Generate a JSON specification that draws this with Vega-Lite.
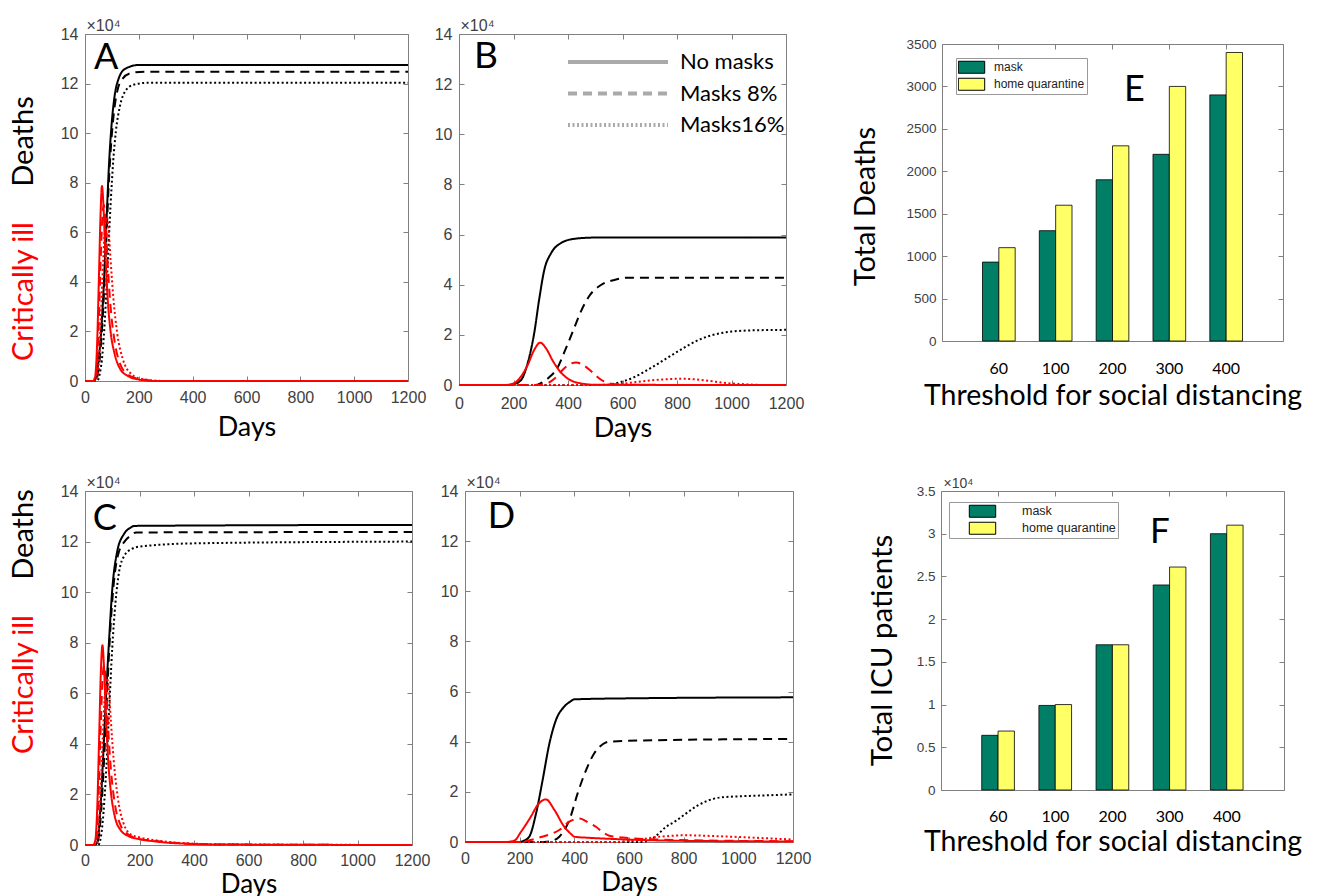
{
"$schema": "https://vega.github.io/schema/vega-lite/v6.json",
"background": "white",
"padding": {"left": 8, "top": 16, "right": 0, "bottom": 0},
"config": {
 "view": {"stroke": "#808080", "strokeWidth": 1},
 "axis": {"grid": false, "domain": false, "domainColor": "#808080", "domainWidth": 1, "labelFlush": false, "labelOverlap": false, "tickColor": "#808080", "tickWidth": 1, "tickSize": -5, "labelFont": "Liberation Sans", "labelColor": "#404040", "titleFont": "Lato", "titleFontWeight": "normal", "titleColor": "black"}
},
"datasets": {
 "lines": [
{"p":"A","m":"d","s":"No masks","x":0,"y":0},{"p":"A","m":"d","s":"No masks","x":30,"y":0},{"p":"A","m":"d","s":"No masks","x":40,"y":0.1},{"p":"A","m":"d","s":"No masks","x":50,"y":0.8},{"p":"A","m":"d","s":"No masks","x":60,"y":2},{"p":"A","m":"d","s":"No masks","x":70,"y":3.9},{"p":"A","m":"d","s":"No masks","x":80,"y":6.5},{"p":"A","m":"d","s":"No masks","x":90,"y":8.9},{"p":"A","m":"d","s":"No masks","x":100,"y":10.5},{"p":"A","m":"d","s":"No masks","x":110,"y":11.5},{"p":"A","m":"d","s":"No masks","x":125,"y":12.2},{"p":"A","m":"d","s":"No masks","x":150,"y":12.6},{"p":"A","m":"d","s":"No masks","x":200,"y":12.75},{"p":"A","m":"d","s":"No masks","x":1200,"y":12.75},
{"p":"A","m":"d","s":"Masks 8%","x":0,"y":0},{"p":"A","m":"d","s":"Masks 8%","x":38,"y":0},{"p":"A","m":"d","s":"Masks 8%","x":48,"y":0.3},{"p":"A","m":"d","s":"Masks 8%","x":58,"y":1.3},{"p":"A","m":"d","s":"Masks 8%","x":68,"y":3},{"p":"A","m":"d","s":"Masks 8%","x":78,"y":5.4},{"p":"A","m":"d","s":"Masks 8%","x":88,"y":7.9},{"p":"A","m":"d","s":"Masks 8%","x":98,"y":9.7},{"p":"A","m":"d","s":"Masks 8%","x":108,"y":10.9},{"p":"A","m":"d","s":"Masks 8%","x":120,"y":11.7},{"p":"A","m":"d","s":"Masks 8%","x":140,"y":12.2},{"p":"A","m":"d","s":"Masks 8%","x":170,"y":12.42},{"p":"A","m":"d","s":"Masks 8%","x":220,"y":12.48},{"p":"A","m":"d","s":"Masks 8%","x":1200,"y":12.48},
{"p":"A","m":"d","s":"Masks16%","x":0,"y":0},{"p":"A","m":"d","s":"Masks16%","x":45,"y":0},{"p":"A","m":"d","s":"Masks16%","x":55,"y":0.3},{"p":"A","m":"d","s":"Masks16%","x":65,"y":1.1},{"p":"A","m":"d","s":"Masks16%","x":75,"y":2.7},{"p":"A","m":"d","s":"Masks16%","x":85,"y":4.9},{"p":"A","m":"d","s":"Masks16%","x":95,"y":7.1},{"p":"A","m":"d","s":"Masks16%","x":105,"y":8.9},{"p":"A","m":"d","s":"Masks16%","x":115,"y":10.1},{"p":"A","m":"d","s":"Masks16%","x":130,"y":11.1},{"p":"A","m":"d","s":"Masks16%","x":150,"y":11.7},{"p":"A","m":"d","s":"Masks16%","x":180,"y":11.95},{"p":"A","m":"d","s":"Masks16%","x":230,"y":12.03},{"p":"A","m":"d","s":"Masks16%","x":1200,"y":12.03},
{"p":"A","m":"c","s":"No masks","x":0,"y":0},{"p":"A","m":"c","s":"No masks","x":30,"y":0},{"p":"A","m":"c","s":"No masks","x":38,"y":0.2},{"p":"A","m":"c","s":"No masks","x":45,"y":1.5},{"p":"A","m":"c","s":"No masks","x":52,"y":4.3},{"p":"A","m":"c","s":"No masks","x":58,"y":6.8},{"p":"A","m":"c","s":"No masks","x":63,"y":7.87},{"p":"A","m":"c","s":"No masks","x":68,"y":7.2},{"p":"A","m":"c","s":"No masks","x":75,"y":5.3},{"p":"A","m":"c","s":"No masks","x":85,"y":3.2},{"p":"A","m":"c","s":"No masks","x":95,"y":2},{"p":"A","m":"c","s":"No masks","x":110,"y":1.1},{"p":"A","m":"c","s":"No masks","x":130,"y":0.5},{"p":"A","m":"c","s":"No masks","x":160,"y":0.2},{"p":"A","m":"c","s":"No masks","x":200,"y":0.06},{"p":"A","m":"c","s":"No masks","x":260,"y":0},{"p":"A","m":"c","s":"No masks","x":1200,"y":0},
{"p":"A","m":"c","s":"Masks 8%","x":0,"y":0},{"p":"A","m":"c","s":"Masks 8%","x":35,"y":0},{"p":"A","m":"c","s":"Masks 8%","x":42,"y":0.3},{"p":"A","m":"c","s":"Masks 8%","x":50,"y":2},{"p":"A","m":"c","s":"Masks 8%","x":58,"y":4.8},{"p":"A","m":"c","s":"Masks 8%","x":65,"y":6.7},{"p":"A","m":"c","s":"Masks 8%","x":70,"y":7.1},{"p":"A","m":"c","s":"Masks 8%","x":76,"y":6.5},{"p":"A","m":"c","s":"Masks 8%","x":85,"y":4.6},{"p":"A","m":"c","s":"Masks 8%","x":95,"y":3},{"p":"A","m":"c","s":"Masks 8%","x":110,"y":1.6},{"p":"A","m":"c","s":"Masks 8%","x":130,"y":0.7},{"p":"A","m":"c","s":"Masks 8%","x":160,"y":0.25},{"p":"A","m":"c","s":"Masks 8%","x":200,"y":0.08},{"p":"A","m":"c","s":"Masks 8%","x":280,"y":0},{"p":"A","m":"c","s":"Masks 8%","x":1200,"y":0},
{"p":"A","m":"c","s":"Masks16%","x":0,"y":0},{"p":"A","m":"c","s":"Masks16%","x":40,"y":0},{"p":"A","m":"c","s":"Masks16%","x":48,"y":0.3},{"p":"A","m":"c","s":"Masks16%","x":56,"y":1.8},{"p":"A","m":"c","s":"Masks16%","x":65,"y":4.2},{"p":"A","m":"c","s":"Masks16%","x":73,"y":6},{"p":"A","m":"c","s":"Masks16%","x":80,"y":6.6},{"p":"A","m":"c","s":"Masks16%","x":87,"y":6.2},{"p":"A","m":"c","s":"Masks16%","x":95,"y":4.9},{"p":"A","m":"c","s":"Masks16%","x":105,"y":3.4},{"p":"A","m":"c","s":"Masks16%","x":120,"y":1.9},{"p":"A","m":"c","s":"Masks16%","x":140,"y":0.9},{"p":"A","m":"c","s":"Masks16%","x":170,"y":0.3},{"p":"A","m":"c","s":"Masks16%","x":210,"y":0.08},{"p":"A","m":"c","s":"Masks16%","x":300,"y":0},{"p":"A","m":"c","s":"Masks16%","x":1200,"y":0},
{"p":"B","m":"d","s":"No masks","x":0,"y":0},{"p":"B","m":"d","s":"No masks","x":180,"y":0},{"p":"B","m":"d","s":"No masks","x":200,"y":0.03},{"p":"B","m":"d","s":"No masks","x":228,"y":0.2},{"p":"B","m":"d","s":"No masks","x":252,"y":0.87},{"p":"B","m":"d","s":"No masks","x":276,"y":2.07},{"p":"B","m":"d","s":"No masks","x":294,"y":3.4},{"p":"B","m":"d","s":"No masks","x":313,"y":4.59},{"p":"B","m":"d","s":"No masks","x":338,"y":5.26},{"p":"B","m":"d","s":"No masks","x":374,"y":5.66},{"p":"B","m":"d","s":"No masks","x":423,"y":5.83},{"p":"B","m":"d","s":"No masks","x":496,"y":5.88},{"p":"B","m":"d","s":"No masks","x":1200,"y":5.88},
{"p":"B","m":"d","s":"Masks 8%","x":0,"y":0},{"p":"B","m":"d","s":"Masks 8%","x":280,"y":0},{"p":"B","m":"d","s":"Masks 8%","x":301,"y":0.08},{"p":"B","m":"d","s":"Masks 8%","x":330,"y":0.3},{"p":"B","m":"d","s":"Masks 8%","x":362,"y":0.7},{"p":"B","m":"d","s":"Masks 8%","x":390,"y":1.4},{"p":"B","m":"d","s":"Masks 8%","x":420,"y":2.2},{"p":"B","m":"d","s":"Masks 8%","x":448,"y":2.95},{"p":"B","m":"d","s":"Masks 8%","x":478,"y":3.55},{"p":"B","m":"d","s":"Masks 8%","x":521,"y":3.99},{"p":"B","m":"d","s":"Masks 8%","x":570,"y":4.19},{"p":"B","m":"d","s":"Masks 8%","x":619,"y":4.28},{"p":"B","m":"d","s":"Masks 8%","x":1200,"y":4.28},
{"p":"B","m":"d","s":"Masks16%","x":0,"y":0},{"p":"B","m":"d","s":"Masks16%","x":520,"y":0},{"p":"B","m":"d","s":"Masks16%","x":580,"y":0.08},{"p":"B","m":"d","s":"Masks16%","x":640,"y":0.3},{"p":"B","m":"d","s":"Masks16%","x":700,"y":0.65},{"p":"B","m":"d","s":"Masks16%","x":760,"y":1.05},{"p":"B","m":"d","s":"Masks16%","x":820,"y":1.45},{"p":"B","m":"d","s":"Masks16%","x":880,"y":1.8},{"p":"B","m":"d","s":"Masks16%","x":940,"y":2.02},{"p":"B","m":"d","s":"Masks16%","x":1000,"y":2.13},{"p":"B","m":"d","s":"Masks16%","x":1080,"y":2.18},{"p":"B","m":"d","s":"Masks16%","x":1200,"y":2.2},
{"p":"B","m":"c","s":"No masks","x":0,"y":0},{"p":"B","m":"c","s":"No masks","x":170,"y":0},{"p":"B","m":"c","s":"No masks","x":200,"y":0.06},{"p":"B","m":"c","s":"No masks","x":225,"y":0.3},{"p":"B","m":"c","s":"No masks","x":252,"y":0.8},{"p":"B","m":"c","s":"No masks","x":276,"y":1.4},{"p":"B","m":"c","s":"No masks","x":298,"y":1.69},{"p":"B","m":"c","s":"No masks","x":320,"y":1.45},{"p":"B","m":"c","s":"No masks","x":345,"y":0.95},{"p":"B","m":"c","s":"No masks","x":370,"y":0.55},{"p":"B","m":"c","s":"No masks","x":400,"y":0.25},{"p":"B","m":"c","s":"No masks","x":440,"y":0.08},{"p":"B","m":"c","s":"No masks","x":500,"y":0.01},{"p":"B","m":"c","s":"No masks","x":1200,"y":0},
{"p":"B","m":"c","s":"Masks 8%","x":0,"y":0},{"p":"B","m":"c","s":"Masks 8%","x":290,"y":0},{"p":"B","m":"c","s":"Masks 8%","x":320,"y":0.05},{"p":"B","m":"c","s":"Masks 8%","x":350,"y":0.25},{"p":"B","m":"c","s":"Masks 8%","x":380,"y":0.6},{"p":"B","m":"c","s":"Masks 8%","x":410,"y":0.85},{"p":"B","m":"c","s":"Masks 8%","x":430,"y":0.9},{"p":"B","m":"c","s":"Masks 8%","x":455,"y":0.8},{"p":"B","m":"c","s":"Masks 8%","x":480,"y":0.6},{"p":"B","m":"c","s":"Masks 8%","x":505,"y":0.35},{"p":"B","m":"c","s":"Masks 8%","x":530,"y":0.15},{"p":"B","m":"c","s":"Masks 8%","x":560,"y":0.05},{"p":"B","m":"c","s":"Masks 8%","x":620,"y":0},{"p":"B","m":"c","s":"Masks 8%","x":1200,"y":0},
{"p":"B","m":"c","s":"Masks16%","x":0,"y":0},{"p":"B","m":"c","s":"Masks16%","x":550,"y":0},{"p":"B","m":"c","s":"Masks16%","x":600,"y":0.05},{"p":"B","m":"c","s":"Masks16%","x":650,"y":0.12},{"p":"B","m":"c","s":"Masks16%","x":700,"y":0.18},{"p":"B","m":"c","s":"Masks16%","x":760,"y":0.23},{"p":"B","m":"c","s":"Masks16%","x":810,"y":0.25},{"p":"B","m":"c","s":"Masks16%","x":860,"y":0.23},{"p":"B","m":"c","s":"Masks16%","x":920,"y":0.16},{"p":"B","m":"c","s":"Masks16%","x":980,"y":0.08},{"p":"B","m":"c","s":"Masks16%","x":1050,"y":0.03},{"p":"B","m":"c","s":"Masks16%","x":1120,"y":0},{"p":"B","m":"c","s":"Masks16%","x":1200,"y":0},
{"p":"C","m":"d","s":"No masks","x":0,"y":0},{"p":"C","m":"d","s":"No masks","x":35,"y":0},{"p":"C","m":"d","s":"No masks","x":45,"y":0.1},{"p":"C","m":"d","s":"No masks","x":58,"y":1.7},{"p":"C","m":"d","s":"No masks","x":68,"y":3.8},{"p":"C","m":"d","s":"No masks","x":76,"y":5.65},{"p":"C","m":"d","s":"No masks","x":88,"y":8.03},{"p":"C","m":"d","s":"No masks","x":100,"y":10.1},{"p":"C","m":"d","s":"No masks","x":118,"y":11.6},{"p":"C","m":"d","s":"No masks","x":143,"y":12.3},{"p":"C","m":"d","s":"No masks","x":167,"y":12.55},{"p":"C","m":"d","s":"No masks","x":181,"y":12.62},{"p":"C","m":"d","s":"No masks","x":1200,"y":12.66},
{"p":"C","m":"d","s":"Masks 8%","x":0,"y":0},{"p":"C","m":"d","s":"Masks 8%","x":40,"y":0},{"p":"C","m":"d","s":"Masks 8%","x":50,"y":0.3},{"p":"C","m":"d","s":"Masks 8%","x":62,"y":1.8},{"p":"C","m":"d","s":"Masks 8%","x":72,"y":3.8},{"p":"C","m":"d","s":"Masks 8%","x":82,"y":6.2},{"p":"C","m":"d","s":"Masks 8%","x":94,"y":8.7},{"p":"C","m":"d","s":"Masks 8%","x":106,"y":10.4},{"p":"C","m":"d","s":"Masks 8%","x":122,"y":11.5},{"p":"C","m":"d","s":"Masks 8%","x":145,"y":12},{"p":"C","m":"d","s":"Masks 8%","x":170,"y":12.25},{"p":"C","m":"d","s":"Masks 8%","x":187,"y":12.36},{"p":"C","m":"d","s":"Masks 8%","x":1200,"y":12.38},
{"p":"C","m":"d","s":"Masks16%","x":0,"y":0},{"p":"C","m":"d","s":"Masks16%","x":48,"y":0},{"p":"C","m":"d","s":"Masks16%","x":58,"y":0.3},{"p":"C","m":"d","s":"Masks16%","x":68,"y":1.3},{"p":"C","m":"d","s":"Masks16%","x":78,"y":3},{"p":"C","m":"d","s":"Masks16%","x":88,"y":5.2},{"p":"C","m":"d","s":"Masks16%","x":100,"y":7.8},{"p":"C","m":"d","s":"Masks16%","x":112,"y":9.6},{"p":"C","m":"d","s":"Masks16%","x":125,"y":10.8},{"p":"C","m":"d","s":"Masks16%","x":145,"y":11.45},{"p":"C","m":"d","s":"Masks16%","x":170,"y":11.7},{"p":"C","m":"d","s":"Masks16%","x":200,"y":11.8},{"p":"C","m":"d","s":"Masks16%","x":400,"y":11.93},{"p":"C","m":"d","s":"Masks16%","x":1200,"y":12},
{"p":"C","m":"c","s":"No masks","x":0,"y":0},{"p":"C","m":"c","s":"No masks","x":30,"y":0},{"p":"C","m":"c","s":"No masks","x":38,"y":0.2},{"p":"C","m":"c","s":"No masks","x":45,"y":1.5},{"p":"C","m":"c","s":"No masks","x":52,"y":4.3},{"p":"C","m":"c","s":"No masks","x":58,"y":6.8},{"p":"C","m":"c","s":"No masks","x":64,"y":7.9},{"p":"C","m":"c","s":"No masks","x":69,"y":7.2},{"p":"C","m":"c","s":"No masks","x":76,"y":5.3},{"p":"C","m":"c","s":"No masks","x":86,"y":3.2},{"p":"C","m":"c","s":"No masks","x":96,"y":2},{"p":"C","m":"c","s":"No masks","x":110,"y":1.1},{"p":"C","m":"c","s":"No masks","x":130,"y":0.6},{"p":"C","m":"c","s":"No masks","x":160,"y":0.35},{"p":"C","m":"c","s":"No masks","x":190,"y":0.25},{"p":"C","m":"c","s":"No masks","x":250,"y":0.15},{"p":"C","m":"c","s":"No masks","x":350,"y":0.06},{"p":"C","m":"c","s":"No masks","x":500,"y":0.02},{"p":"C","m":"c","s":"No masks","x":1200,"y":0},
{"p":"C","m":"c","s":"Masks 8%","x":0,"y":0},{"p":"C","m":"c","s":"Masks 8%","x":35,"y":0},{"p":"C","m":"c","s":"Masks 8%","x":42,"y":0.3},{"p":"C","m":"c","s":"Masks 8%","x":50,"y":2},{"p":"C","m":"c","s":"Masks 8%","x":58,"y":4.8},{"p":"C","m":"c","s":"Masks 8%","x":65,"y":6.7},{"p":"C","m":"c","s":"Masks 8%","x":70,"y":7.1},{"p":"C","m":"c","s":"Masks 8%","x":76,"y":6.5},{"p":"C","m":"c","s":"Masks 8%","x":85,"y":4.6},{"p":"C","m":"c","s":"Masks 8%","x":95,"y":3},{"p":"C","m":"c","s":"Masks 8%","x":110,"y":1.6},{"p":"C","m":"c","s":"Masks 8%","x":130,"y":0.8},{"p":"C","m":"c","s":"Masks 8%","x":160,"y":0.4},{"p":"C","m":"c","s":"Masks 8%","x":190,"y":0.27},{"p":"C","m":"c","s":"Masks 8%","x":250,"y":0.17},{"p":"C","m":"c","s":"Masks 8%","x":350,"y":0.07},{"p":"C","m":"c","s":"Masks 8%","x":500,"y":0.02},{"p":"C","m":"c","s":"Masks 8%","x":1200,"y":0},
{"p":"C","m":"c","s":"Masks16%","x":0,"y":0},{"p":"C","m":"c","s":"Masks16%","x":40,"y":0},{"p":"C","m":"c","s":"Masks16%","x":48,"y":0.3},{"p":"C","m":"c","s":"Masks16%","x":56,"y":1.8},{"p":"C","m":"c","s":"Masks16%","x":65,"y":4.2},{"p":"C","m":"c","s":"Masks16%","x":73,"y":6},{"p":"C","m":"c","s":"Masks16%","x":80,"y":6.6},{"p":"C","m":"c","s":"Masks16%","x":87,"y":6.2},{"p":"C","m":"c","s":"Masks16%","x":95,"y":4.9},{"p":"C","m":"c","s":"Masks16%","x":105,"y":3.4},{"p":"C","m":"c","s":"Masks16%","x":120,"y":1.9},{"p":"C","m":"c","s":"Masks16%","x":140,"y":0.9},{"p":"C","m":"c","s":"Masks16%","x":170,"y":0.4},{"p":"C","m":"c","s":"Masks16%","x":200,"y":0.3},{"p":"C","m":"c","s":"Masks16%","x":250,"y":0.2},{"p":"C","m":"c","s":"Masks16%","x":350,"y":0.08},{"p":"C","m":"c","s":"Masks16%","x":500,"y":0.03},{"p":"C","m":"c","s":"Masks16%","x":1200,"y":0},
{"p":"D","m":"d","s":"No masks","x":0,"y":0},{"p":"D","m":"d","s":"No masks","x":195,"y":0},{"p":"D","m":"d","s":"No masks","x":215,"y":0.05},{"p":"D","m":"d","s":"No masks","x":235,"y":0.21},{"p":"D","m":"d","s":"No masks","x":260,"y":1.14},{"p":"D","m":"d","s":"No masks","x":284,"y":2.47},{"p":"D","m":"d","s":"No masks","x":309,"y":3.94},{"p":"D","m":"d","s":"No masks","x":333,"y":4.87},{"p":"D","m":"d","s":"No masks","x":363,"y":5.4},{"p":"D","m":"d","s":"No masks","x":385,"y":5.6},{"p":"D","m":"d","s":"No masks","x":400,"y":5.69},{"p":"D","m":"d","s":"No masks","x":600,"y":5.73},{"p":"D","m":"d","s":"No masks","x":1200,"y":5.77},
{"p":"D","m":"d","s":"Masks 8%","x":0,"y":0},{"p":"D","m":"d","s":"Masks 8%","x":290,"y":0},{"p":"D","m":"d","s":"Masks 8%","x":320,"y":0.05},{"p":"D","m":"d","s":"Masks 8%","x":345,"y":0.21},{"p":"D","m":"d","s":"Masks 8%","x":382,"y":0.88},{"p":"D","m":"d","s":"Masks 8%","x":412,"y":1.94},{"p":"D","m":"d","s":"Masks 8%","x":443,"y":2.87},{"p":"D","m":"d","s":"Masks 8%","x":473,"y":3.54},{"p":"D","m":"d","s":"Masks 8%","x":504,"y":3.9},{"p":"D","m":"d","s":"Masks 8%","x":528,"y":4},{"p":"D","m":"d","s":"Masks 8%","x":700,"y":4.06},{"p":"D","m":"d","s":"Masks 8%","x":1200,"y":4.11},
{"p":"D","m":"d","s":"Masks16%","x":0,"y":0},{"p":"D","m":"d","s":"Masks16%","x":640,"y":0},{"p":"D","m":"d","s":"Masks16%","x":680,"y":0.1},{"p":"D","m":"d","s":"Masks16%","x":710,"y":0.35},{"p":"D","m":"d","s":"Masks16%","x":735,"y":0.6},{"p":"D","m":"d","s":"Masks16%","x":766,"y":0.8},{"p":"D","m":"d","s":"Masks16%","x":809,"y":1.14},{"p":"D","m":"d","s":"Masks16%","x":850,"y":1.45},{"p":"D","m":"d","s":"Masks16%","x":882,"y":1.62},{"p":"D","m":"d","s":"Masks16%","x":930,"y":1.77},{"p":"D","m":"d","s":"Masks16%","x":1000,"y":1.82},{"p":"D","m":"d","s":"Masks16%","x":1100,"y":1.86},{"p":"D","m":"d","s":"Masks16%","x":1200,"y":1.9},
{"p":"D","m":"c","s":"No masks","x":0,"y":0},{"p":"D","m":"c","s":"No masks","x":150,"y":0},{"p":"D","m":"c","s":"No masks","x":180,"y":0.05},{"p":"D","m":"c","s":"No masks","x":205,"y":0.41},{"p":"D","m":"c","s":"No masks","x":241,"y":1.01},{"p":"D","m":"c","s":"No masks","x":266,"y":1.48},{"p":"D","m":"c","s":"No masks","x":296,"y":1.7},{"p":"D","m":"c","s":"No masks","x":327,"y":1.28},{"p":"D","m":"c","s":"No masks","x":363,"y":0.61},{"p":"D","m":"c","s":"No masks","x":390,"y":0.3},{"p":"D","m":"c","s":"No masks","x":400,"y":0.21},{"p":"D","m":"c","s":"No masks","x":450,"y":0.17},{"p":"D","m":"c","s":"No masks","x":522,"y":0.13},{"p":"D","m":"c","s":"No masks","x":644,"y":0.08},{"p":"D","m":"c","s":"No masks","x":766,"y":0.05},{"p":"D","m":"c","s":"No masks","x":1000,"y":0.03},{"p":"D","m":"c","s":"No masks","x":1200,"y":0.02},
{"p":"D","m":"c","s":"Masks 8%","x":0,"y":0},{"p":"D","m":"c","s":"Masks 8%","x":200,"y":0},{"p":"D","m":"c","s":"Masks 8%","x":240,"y":0.08},{"p":"D","m":"c","s":"Masks 8%","x":278,"y":0.2},{"p":"D","m":"c","s":"Masks 8%","x":310,"y":0.3},{"p":"D","m":"c","s":"Masks 8%","x":345,"y":0.48},{"p":"D","m":"c","s":"Masks 8%","x":380,"y":0.8},{"p":"D","m":"c","s":"Masks 8%","x":420,"y":0.94},{"p":"D","m":"c","s":"Masks 8%","x":450,"y":0.78},{"p":"D","m":"c","s":"Masks 8%","x":479,"y":0.61},{"p":"D","m":"c","s":"Masks 8%","x":505,"y":0.38},{"p":"D","m":"c","s":"Masks 8%","x":528,"y":0.25},{"p":"D","m":"c","s":"Masks 8%","x":577,"y":0.18},{"p":"D","m":"c","s":"Masks 8%","x":766,"y":0.08},{"p":"D","m":"c","s":"Masks 8%","x":1200,"y":0.03},
{"p":"D","m":"c","s":"Masks16%","x":0,"y":0},{"p":"D","m":"c","s":"Masks16%","x":550,"y":0},{"p":"D","m":"c","s":"Masks16%","x":600,"y":0.05},{"p":"D","m":"c","s":"Masks16%","x":650,"y":0.12},{"p":"D","m":"c","s":"Masks16%","x":700,"y":0.2},{"p":"D","m":"c","s":"Masks16%","x":750,"y":0.24},{"p":"D","m":"c","s":"Masks16%","x":800,"y":0.27},{"p":"D","m":"c","s":"Masks16%","x":900,"y":0.24},{"p":"D","m":"c","s":"Masks16%","x":1000,"y":0.2},{"p":"D","m":"c","s":"Masks16%","x":1100,"y":0.15},{"p":"D","m":"c","s":"Masks16%","x":1200,"y":0.1}
 ],
 "bars": [
{"panel":"E","t":"60","s":"mask","v":930},{"panel":"E","t":"100","s":"mask","v":1300},{"panel":"E","t":"200","s":"mask","v":1900},{"panel":"E","t":"300","s":"mask","v":2200},{"panel":"E","t":"400","s":"mask","v":2900},
{"panel":"E","t":"60","s":"home quarantine","v":1100},{"panel":"E","t":"100","s":"home quarantine","v":1600},{"panel":"E","t":"200","s":"home quarantine","v":2300},{"panel":"E","t":"300","s":"home quarantine","v":3000},{"panel":"E","t":"400","s":"home quarantine","v":3400},
{"panel":"F","t":"60","s":"mask","v":0.64},{"panel":"F","t":"100","s":"mask","v":0.99},{"panel":"F","t":"200","s":"mask","v":1.7},{"panel":"F","t":"300","s":"mask","v":2.4},{"panel":"F","t":"400","s":"mask","v":3.0},
{"panel":"F","t":"60","s":"home quarantine","v":0.69},{"panel":"F","t":"100","s":"home quarantine","v":1.0},{"panel":"F","t":"200","s":"home quarantine","v":1.7},{"panel":"F","t":"300","s":"home quarantine","v":2.61},{"panel":"F","t":"400","s":"home quarantine","v":3.1}
 ]
},
"spacing": 31,
"resolve": {"scale": {"color": "independent", "strokeDash": "independent"}, "legend": {"color": "independent", "strokeDash": "independent"}},
"vconcat": [
 {"hconcat": [
  {"width": 323, "height": 347,
   "layer": [
    {"data": {"name": "lines"}, "transform": [{"filter": "datum.p === 'A' && datum.m === 'd'"}],
     "mark": {"type": "line", "color": "black", "strokeWidth": 2, "interpolate": "monotone"},
     "encoding": {
      "x": {"field": "x", "type": "quantitative", "scale": {"domain": [0, 1200], "nice": false},
            "axis": {"orient": "bottom", "values": [0,200,400,600,800,1000,1200], "format": "d", "labelFontSize": 16, "labelPadding": 13, "title": "Days", "titleFontSize": 27, "titleBaseline": "top", "titleY": 33}},
      "y": {"field": "y", "type": "quantitative", "scale": {"domain": [0, 14], "nice": false},
            "axis": {"orient": "left", "values": [0,2,4,6,8,10,12,14], "format": "d", "labelFontSize": 16, "labelPadding": 12, "title": "Deaths", "titleFontSize": 29, "titleAngle": -90, "titleAlign": "center", "titleBaseline": "middle", "titleX": -62, "titleY": 107}},
      "strokeDash": {"field": "s", "type": "nominal", "scale": {"domain": ["No masks", "Masks 8%", "Masks16%"], "range": [[1,0],[9,6],[2,2.5]]}, "legend": null}
     }},
    {"data": {"name": "lines"}, "transform": [{"filter": "datum.p === 'A' && datum.m === 'c'"}],
     "mark": {"type": "line", "color": "#ff0000", "strokeWidth": 2, "interpolate": "monotone"},
     "encoding": {
      "x": {"field": "x", "type": "quantitative", "scale": {"domain": [0, 1200], "nice": false},
            "axis": {"orient": "top", "values": [0,200,400,600,800,1000,1200], "labels": false, "title": "\u00d710\u2074", "titleFont": "Liberation Sans", "titleFontSize": 16, "titleColor": "#404040", "titleAngle": 0, "titleAlign": "left", "titleBaseline": "alphabetic", "titleX": 1, "titleY": -4}},
      "y": {"field": "y", "type": "quantitative", "scale": {"domain": [0, 14], "nice": false},
            "axis": {"orient": "right", "values": [0,2,4,6,8,10,12,14], "labels": false, "title": "Critically ill", "titleColor": "#ff0000", "titleFontSize": 29, "titleAngle": -90, "titleAlign": "center", "titleBaseline": "middle", "titleX": -385, "titleY": 257}},
      "strokeDash": {"field": "s", "type": "nominal", "scale": {"domain": ["No masks", "Masks 8%", "Masks16%"], "range": [[1,0],[9,6],[2,2.5]]}, "legend": null}
     }},
    {"data": {"values": [{}]},
     "mark": {"type": "text", "text": "A", "font": "Lato", "fontSize": 36, "align": "left", "baseline": "alphabetic", "color": "black"},
     "encoding": {"x": {"datum": 33, "type": "quantitative", "axis": null}, "y": {"datum": 12.57, "type": "quantitative", "axis": null}}}
   ],
   "resolve": {"axis": {"x": "independent", "y": "independent"}}
  },
  {"width": 327, "height": 351,
   "layer": [
    {"data": {"name": "lines"}, "transform": [{"filter": "datum.p === 'B' && datum.m === 'd'"}],
     "mark": {"type": "line", "color": "black", "strokeWidth": 2, "interpolate": "monotone"},
     "encoding": {
      "x": {"field": "x", "type": "quantitative", "scale": {"domain": [0, 1200], "nice": false},
            "axis": {"orient": "bottom", "values": [0,200,400,600,800,1000,1200], "format": "d", "labelFontSize": 16, "labelPadding": 15.5, "title": "Days", "titleFontSize": 27, "titleBaseline": "top", "titleY": 30}},
      "y": {"field": "y", "type": "quantitative", "scale": {"domain": [0, 14], "nice": false},
            "axis": {"orient": "left", "values": [0,2,4,6,8,10,12,14], "format": "d", "labelFontSize": 16, "labelPadding": 12, "title": null}},
      "strokeDash": {"field": "s", "type": "nominal", "scale": {"domain": ["No masks", "Masks 8%", "Masks16%"], "range": [[1,0],[9,6],[2,2.5]]},
        "legend": {"title": null, "orient": "none", "legendX": 107, "legendY": 13, "symbolType": "stroke", "symbolSize": 10000, "symbolStrokeWidth": 4, "symbolStrokeColor": "#aaaaaa", "labelFont": "Lato", "labelFontSize": 22, "labelColor": "black", "labelOffset": 10, "clipHeight": 30, "rowPadding": 1.5, "padding": 0,
          "encode": {"symbols": {"update": {"strokeDash": {"signal": "datum.value === 'Masks 8%' ? [14,12] : datum.value === 'Masks16%' ? [3.5,5.5] : [1,0]"}, "stroke": {"value": "#aaaaaa"}, "strokeWidth": {"value": 4}}}}}}
     }},
    {"data": {"name": "lines"}, "transform": [{"filter": "datum.p === 'B' && datum.m === 'c'"}],
     "mark": {"type": "line", "color": "#ff0000", "strokeWidth": 2, "interpolate": "monotone"},
     "encoding": {
      "x": {"field": "x", "type": "quantitative", "scale": {"domain": [0, 1200], "nice": false},
            "axis": {"orient": "top", "values": [0,200,400,600,800,1000,1200], "labels": false, "title": "\u00d710\u2074", "titleFont": "Liberation Sans", "titleFontSize": 16, "titleColor": "#404040", "titleAngle": 0, "titleAlign": "left", "titleBaseline": "alphabetic", "titleX": 1, "titleY": -4}},
      "y": {"field": "y", "type": "quantitative", "scale": {"domain": [0, 14], "nice": false},
            "axis": {"orient": "right", "values": [0,2,4,6,8,10,12,14], "labels": false, "title": null}},
      "strokeDash": {"field": "s", "type": "nominal", "scale": {"domain": ["No masks", "Masks 8%", "Masks16%"], "range": [[1,0],[9,6],[2,2.5]]},
        "legend": {"title": null, "orient": "none", "legendX": 107, "legendY": 13, "symbolType": "stroke", "symbolSize": 10000, "symbolStrokeWidth": 4, "symbolStrokeColor": "#aaaaaa", "labelFont": "Lato", "labelFontSize": 22, "labelColor": "black", "labelOffset": 10, "clipHeight": 30, "rowPadding": 1.5, "padding": 0,
          "encode": {"symbols": {"update": {"strokeDash": {"signal": "datum.value === 'Masks 8%' ? [14,12] : datum.value === 'Masks16%' ? [3.5,5.5] : [1,0]"}, "stroke": {"value": "#aaaaaa"}, "strokeWidth": {"value": 4}}}}}}
     }},
    {"data": {"values": [{}]},
     "mark": {"type": "text", "text": "B", "font": "Lato", "fontSize": 37, "align": "left", "baseline": "alphabetic", "color": "black"},
     "encoding": {"x": {"datum": 55, "type": "quantitative", "axis": null}, "y": {"datum": 12.63, "type": "quantitative", "axis": null}}}
   ],
   "resolve": {"axis": {"x": "independent", "y": "independent"}}
  },
  {"width": 54, "height": 1, "data": {"values": []}, "mark": "point", "view": {"stroke": null}},
  {"width": 341, "height": 307,
   "view": {"stroke": null},
   "layer": [
    {"data": {"name": "bars"}, "transform": [{"filter": "datum.panel === 'E' && datum.s === 'mask'"}],
     "mark": {"type": "bar", "stroke": "black", "strokeWidth": 0.8},
     "encoding": {
      "x": {"field": "t", "type": "nominal", "scale": {"domain": ["60","100","200","300","400"], "paddingInner": 0.425, "paddingOuter": 0.7125},
            "axis": {"orient": "bottom", "domain": true, "ticks": false, "labelAngle": 0, "labelFont": "Lato", "labelFontSize": 16, "labelColor": "black", "labelPadding": 19, "title": "Threshold for social distancing", "titleFontSize": 28.5, "titleBaseline": "top", "titleY": 40,
                     "encode": {"labels": {"update": {"dx": {"signal": "datum.value === '60' ? 1 : datum.value === '100' ? -9 : datum.value === '400' ? -12 : -3"}}}}}},
      "xOffset": {"field": "s", "type": "nominal", "scale": {"domain": ["mask", "home quarantine"], "paddingInner": 0, "paddingOuter": 0}},
      "y": {"field": "v", "type": "quantitative", "scale": {"domain": [0, 3500], "nice": false, "range": [307, 10]},
            "axis": {"orient": "left", "domain": true, "values": [0,500,1000,1500,2000,2500,3000,3500], "format": "d", "labelFontSize": 13.5, "labelPadding": 11, "title": "Total Deaths", "titleFontSize": 29, "titleAngle": -90, "titleAlign": "center", "titleBaseline": "middle", "titleX": -77, "titleY": 172}},
      "color": {"field": "s", "type": "nominal", "scale": {"domain": ["mask", "home quarantine"], "range": ["#007f66", "#ffff66"]},
        "legend": {"title": null, "orient": "none", "legendX": 14, "legendY": 24, "symbolType": "M-2.2,-1H2.2V1H-2.2Z", "symbolSize": 144, "symbolStrokeColor": "black", "symbolStrokeWidth": 1, "symbolOffset": 7, "labelOffset": 16, "labelFont": "Liberation Sans", "labelFontSize": 12, "labelColor": "#222222", "clipHeight": 14.5, "rowPadding": 2, "padding": 2, "strokeColor": "#999999", "fillColor": "white"}}
     }},
    {"data": {"name": "bars"}, "transform": [{"filter": "datum.panel === 'E' && datum.s === 'home quarantine'"}],
     "mark": {"type": "bar", "stroke": "black", "strokeWidth": 0.8},
     "encoding": {
      "x": {"field": "t", "type": "nominal", "scale": {"domain": ["60","100","200","300","400"], "paddingInner": 0.425, "paddingOuter": 0.7125},
            "axis": {"orient": "top", "domain": true, "offset": -10, "labels": false, "title": null}},
      "xOffset": {"field": "s", "type": "nominal", "scale": {"domain": ["mask", "home quarantine"], "paddingInner": 0, "paddingOuter": 0}},
      "y": {"field": "v", "type": "quantitative", "scale": {"domain": [0, 3500], "nice": false, "range": [307, 10]},
            "axis": {"orient": "right", "domain": true, "values": [0,500,1000,1500,2000,2500,3000,3500], "labels": false, "title": null}},
      "color": {"field": "s", "type": "nominal", "scale": {"domain": ["mask", "home quarantine"], "range": ["#007f66", "#ffff66"]},
        "legend": {"title": null, "orient": "none", "legendX": 14, "legendY": 24, "symbolType": "M-2.2,-1H2.2V1H-2.2Z", "symbolSize": 144, "symbolStrokeColor": "black", "symbolStrokeWidth": 1, "symbolOffset": 7, "labelOffset": 16, "labelFont": "Liberation Sans", "labelFontSize": 12, "labelColor": "#222222", "clipHeight": 14.5, "rowPadding": 2, "padding": 2, "strokeColor": "#999999", "fillColor": "white"}}
     }},
    {"data": {"values": [{}]},
     "mark": {"type": "text", "text": "E", "font": "Lato", "fontSize": 36, "align": "left", "baseline": "alphabetic", "color": "black", "dx": 11.5},
     "encoding": {"x": {"datum": "200", "type": "nominal", "axis": null}, "y": {"datum": 2828, "type": "quantitative", "axis": null}}}
   ],
   "resolve": {"axis": {"x": "independent", "y": "independent"}}
  }
 ], "spacing": 51, "bounds": "flush",
 "resolve": {"scale": {"color": "independent", "strokeDash": "independent"}, "legend": {"color": "independent", "strokeDash": "independent"}}},
 {"hconcat": [
  {"width": 327, "height": 354,
   "layer": [
    {"data": {"name": "lines"}, "transform": [{"filter": "datum.p === 'C' && datum.m === 'd'"}],
     "mark": {"type": "line", "color": "black", "strokeWidth": 2, "interpolate": "monotone"},
     "encoding": {
      "x": {"field": "x", "type": "quantitative", "scale": {"domain": [0, 1200], "nice": false},
            "axis": {"orient": "bottom", "values": [0,200,400,600,800,1000,1200], "format": "d", "labelFontSize": 16, "labelPadding": 12, "title": "Days", "titleFontSize": 26, "titleBaseline": "top", "titleY": 26}},
      "y": {"field": "y", "type": "quantitative", "scale": {"domain": [0, 14], "nice": false},
            "axis": {"orient": "left", "values": [0,2,4,6,8,10,12,14], "format": "d", "labelFontSize": 16, "labelPadding": 12, "title": "Deaths", "titleFontSize": 29, "titleAngle": -90, "titleAlign": "center", "titleBaseline": "middle", "titleX": -62, "titleY": 43}},
      "strokeDash": {"field": "s", "type": "nominal", "scale": {"domain": ["No masks", "Masks 8%", "Masks16%"], "range": [[1,0],[9,6],[2,2.5]]}, "legend": null}
     }},
    {"data": {"name": "lines"}, "transform": [{"filter": "datum.p === 'C' && datum.m === 'c'"}],
     "mark": {"type": "line", "color": "#ff0000", "strokeWidth": 2, "interpolate": "monotone"},
     "encoding": {
      "x": {"field": "x", "type": "quantitative", "scale": {"domain": [0, 1200], "nice": false},
            "axis": {"orient": "top", "values": [0,200,400,600,800,1000,1200], "labels": false, "title": "\u00d710\u2074", "titleFont": "Liberation Sans", "titleFontSize": 16, "titleColor": "#404040", "titleAngle": 0, "titleAlign": "left", "titleBaseline": "alphabetic", "titleX": 1, "titleY": -4}},
      "y": {"field": "y", "type": "quantitative", "scale": {"domain": [0, 14], "nice": false},
            "axis": {"orient": "right", "values": [0,2,4,6,8,10,12,14], "labels": false, "title": "Critically ill", "titleColor": "#ff0000", "titleFontSize": 29, "titleAngle": -90, "titleAlign": "center", "titleBaseline": "middle", "titleX": -389, "titleY": 193}},
      "strokeDash": {"field": "s", "type": "nominal", "scale": {"domain": ["No masks", "Masks 8%", "Masks16%"], "range": [[1,0],[9,6],[2,2.5]]}, "legend": null}
     }},
    {"data": {"values": [{}]},
     "mark": {"type": "text", "text": "C", "font": "Lato", "fontSize": 36, "align": "left", "baseline": "alphabetic", "color": "black"},
     "encoding": {"x": {"datum": 28, "type": "quantitative", "axis": null}, "y": {"datum": 12.44, "type": "quantitative", "axis": null}}}
   ],
   "resolve": {"axis": {"x": "independent", "y": "independent"}}
  },
  {"width": 328, "height": 351,
   "layer": [
    {"data": {"name": "lines"}, "transform": [{"filter": "datum.p === 'D' && datum.m === 'd'"}],
     "mark": {"type": "line", "color": "black", "strokeWidth": 2, "interpolate": "monotone"},
     "encoding": {
      "x": {"field": "x", "type": "quantitative", "scale": {"domain": [0, 1200], "nice": false},
            "axis": {"orient": "bottom", "values": [0,200,400,600,800,1000,1200], "format": "d", "labelFontSize": 16, "labelPadding": 13, "title": "Days", "titleFontSize": 26, "titleBaseline": "top", "titleY": 27}},
      "y": {"field": "y", "type": "quantitative", "scale": {"domain": [0, 14], "nice": false},
            "axis": {"orient": "left", "values": [0,2,4,6,8,10,12,14], "format": "d", "labelFontSize": 16, "labelPadding": 12, "title": null}},
      "strokeDash": {"field": "s", "type": "nominal", "scale": {"domain": ["No masks", "Masks 8%", "Masks16%"], "range": [[1,0],[9,6],[2,2.5]]}, "legend": null}
     }},
    {"data": {"name": "lines"}, "transform": [{"filter": "datum.p === 'D' && datum.m === 'c'"}],
     "mark": {"type": "line", "color": "#ff0000", "strokeWidth": 2, "interpolate": "monotone"},
     "encoding": {
      "x": {"field": "x", "type": "quantitative", "scale": {"domain": [0, 1200], "nice": false},
            "axis": {"orient": "top", "values": [0,200,400,600,800,1000,1200], "labels": false, "title": "\u00d710\u2074", "titleFont": "Liberation Sans", "titleFontSize": 16, "titleColor": "#404040", "titleAngle": 0, "titleAlign": "left", "titleBaseline": "alphabetic", "titleX": 1, "titleY": -4}},
      "y": {"field": "y", "type": "quantitative", "scale": {"domain": [0, 14], "nice": false},
            "axis": {"orient": "right", "values": [0,2,4,6,8,10,12,14], "labels": false, "title": null}},
      "strokeDash": {"field": "s", "type": "nominal", "scale": {"domain": ["No masks", "Masks 8%", "Masks16%"], "range": [[1,0],[9,6],[2,2.5]]}, "legend": null}
     }},
    {"data": {"values": [{}]},
     "mark": {"type": "text", "text": "D", "font": "Lato", "fontSize": 36, "align": "left", "baseline": "alphabetic", "color": "black"},
     "encoding": {"x": {"datum": 83, "type": "quantitative", "axis": null}, "y": {"datum": 12.51, "type": "quantitative", "axis": null}}}
   ],
   "resolve": {"axis": {"x": "independent", "y": "independent"}}
  },
  {"width": 42, "height": 1, "data": {"values": []}, "mark": "point", "view": {"stroke": null}},
  {"width": 343, "height": 299,
   "layer": [
    {"data": {"name": "bars"}, "transform": [{"filter": "datum.panel === 'F' && datum.s === 'mask'"}],
     "mark": {"type": "bar", "stroke": "black", "strokeWidth": 0.8},
     "encoding": {
      "x": {"field": "t", "type": "nominal", "scale": {"domain": ["60","100","200","300","400"], "paddingInner": 0.425, "paddingOuter": 0.7125},
            "axis": {"orient": "bottom", "ticks": false, "labelAngle": 0, "labelFont": "Lato", "labelFontSize": 16, "labelColor": "black", "labelPadding": 18, "title": "Threshold for social distancing", "titleFontSize": 28.5, "titleBaseline": "top", "titleY": 37,
                     "encode": {"labels": {"update": {"dx": {"signal": "datum.value === '60' ? 4 : datum.value === '100' ? -8 : datum.value === '200' ? -2 : datum.value === '400' ? -11 : 0"}}}}}},
      "xOffset": {"field": "s", "type": "nominal", "scale": {"domain": ["mask", "home quarantine"], "paddingInner": 0, "paddingOuter": 0}},
      "y": {"field": "v", "type": "quantitative", "scale": {"domain": [0, 3.5], "nice": false},
            "axis": {"orient": "left", "values": [0,0.5,1,1.5,2,2.5,3,3.5], "format": "~g", "labelFontSize": 13.5, "labelPadding": 11, "title": "Total ICU patients", "titleFontSize": 29.5, "titleAngle": -90, "titleAlign": "center", "titleBaseline": "middle", "titleX": -59, "titleY": 159}},
      "color": {"field": "s", "type": "nominal", "scale": {"domain": ["mask", "home quarantine"], "range": ["#007f66", "#ffff66"]},
        "legend": {"title": null, "orient": "none", "legendX": 8, "legendY": 11, "symbolType": "M-2.2,-1H2.2V1H-2.2Z", "symbolSize": 144, "symbolStrokeColor": "black", "symbolStrokeWidth": 1, "symbolOffset": 25, "labelOffset": 33, "labelFont": "Liberation Sans", "labelFontSize": 12.5, "labelColor": "#222222", "clipHeight": 14.5, "rowPadding": 2, "padding": 2, "strokeColor": "#999999", "fillColor": "white"}}
     }},
    {"data": {"name": "bars"}, "transform": [{"filter": "datum.panel === 'F' && datum.s === 'home quarantine'"}],
     "mark": {"type": "bar", "stroke": "black", "strokeWidth": 0.8},
     "encoding": {
      "x": {"field": "t", "type": "nominal", "scale": {"domain": ["60","100","200","300","400"], "paddingInner": 0.425, "paddingOuter": 0.7125},
            "axis": {"orient": "top", "labels": false, "title": "\u00d710\u2074", "titleFont": "Liberation Sans", "titleFontSize": 14, "titleColor": "#404040", "titleAngle": 0, "titleAlign": "left", "titleBaseline": "alphabetic", "titleX": 2, "titleY": -4}},
      "xOffset": {"field": "s", "type": "nominal", "scale": {"domain": ["mask", "home quarantine"], "paddingInner": 0, "paddingOuter": 0}},
      "y": {"field": "v", "type": "quantitative", "scale": {"domain": [0, 3.5], "nice": false},
            "axis": {"orient": "right", "values": [0,0.5,1,1.5,2,2.5,3,3.5], "labels": false, "title": null}},
      "color": {"field": "s", "type": "nominal", "scale": {"domain": ["mask", "home quarantine"], "range": ["#007f66", "#ffff66"]},
        "legend": {"title": null, "orient": "none", "legendX": 8, "legendY": 11, "symbolType": "M-2.2,-1H2.2V1H-2.2Z", "symbolSize": 144, "symbolStrokeColor": "black", "symbolStrokeWidth": 1, "symbolOffset": 25, "labelOffset": 33, "labelFont": "Liberation Sans", "labelFontSize": 12.5, "labelColor": "#222222", "clipHeight": 14.5, "rowPadding": 2, "padding": 2, "strokeColor": "#999999", "fillColor": "white"}}
     }},
    {"data": {"values": [{}]},
     "mark": {"type": "text", "text": "F", "font": "Lato", "fontSize": 35, "align": "left", "baseline": "alphabetic", "color": "black", "dx": 37.5},
     "encoding": {"x": {"datum": "200", "type": "nominal", "axis": null}, "y": {"datum": 2.89, "type": "quantitative", "axis": null}}}
   ],
   "resolve": {"axis": {"x": "independent", "y": "independent"}}
  }
 ], "spacing": 53, "bounds": "flush",
 "resolve": {"scale": {"color": "independent", "strokeDash": "independent"}, "legend": {"color": "independent", "strokeDash": "independent"}}}
]
}
